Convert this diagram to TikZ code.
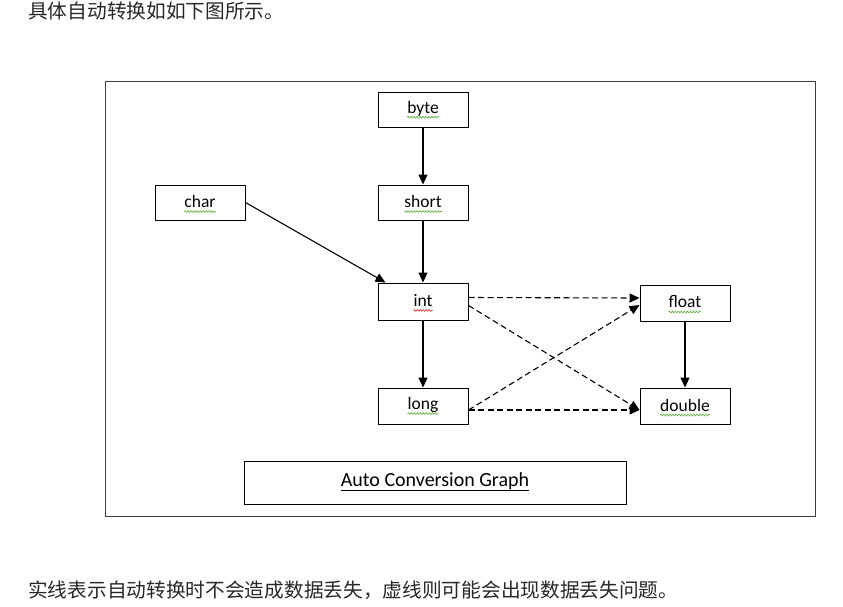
\documentclass[tikz,border=0pt]{standalone}
\usepackage{fontspec}
\setmainfont{Carlito}
\newfontfamily\cjk{Noto Sans CJK SC}
\usetikzlibrary{arrows.meta,decorations.pathmorphing}
\definecolor{squiggreen}{RGB}{90,170,60}
\definecolor{squigred}{RGB}{220,40,40}
\definecolor{txtgray}{RGB}{40,40,40}
\tikzset{
  x=1pt,y=-1pt,
  typebox/.style={draw=black,line width=1pt,minimum width=90pt,minimum height=35pt,inner sep=0pt},
  lbl/.style={inner sep=0pt,font=\fontsize{17.5}{19}\selectfont},
  squig/.style={line width=0.6pt,decorate,decoration={snake,amplitude=0.9pt,segment length=3pt}},
  conv/.style={line width=1.1pt,-{Triangle[length=10pt,width=9pt]}},
  lossy/.style={conv,dash pattern=on 6pt off 3.5pt},
  cjktext/.style={anchor=west,inner sep=0pt,text=txtgray,font=\cjk\fontsize{19.7}{21}\selectfont}
}
\begin{document}
\begin{tikzpicture}
\useasboundingbox[fill=white] (0,0) rectangle (843,606);
% captions
\node[cjktext] (top) at (28,11) {具体自动转换如如下图所示。};
\node[cjktext] (bottom) at (28,590) {实线表示自动转换时不会造成数据丢失，虚线则可能会出现数据丢失问题。};
% frame
\node[draw=black!75,line width=1pt,minimum width=710pt,minimum height=435pt,inner sep=0pt] (frame) at (460,298.5) {};
% boxes
\node[typebox] (byte) at (423,109.5) {};
\node[typebox] (short) at (423,202.5) {};
\node[typebox] (char) at (200,202.5) {};
\node[typebox,minimum height=37pt] (int) at (423,301.5) {};
\node[typebox,minimum height=36pt] (long) at (423,406) {};
\node[typebox,minimum height=36pt] (float) at (685,303) {};
\node[typebox,minimum height=36pt] (double) at (685,406) {};
\node[draw=black,line width=1pt,minimum width=382pt,minimum height=43pt,inner sep=0pt] (title) at (435,482.5) {};
% labels
\foreach \n/\c in {byte/squiggreen,short/squiggreen,char/squiggreen,int/squigred,long/squiggreen,float/squiggreen,double/squiggreen}{
  \node[lbl] (\n t) at ([yshift=1]\n.center) {\n};
  \draw[squig,\c] ([yshift=-4]\n t.base west) -- ([yshift=-4]\n t.base east);
}
\node[lbl,font=\fontsize{20}{22}\selectfont] (titlet) at ([yshift=1]title.center) {Auto Conversion Graph};
\draw[line width=0.8pt] ([yshift=-3.5]titlet.base west) -- ([yshift=-3.5]titlet.base east);
% solid conversions
\draw[conv] (byte) -- (short);
\draw[conv] (short) -- (int);
\draw[conv] (char.east) -- ([xshift=8]int.north west);
\draw[conv] (int) -- (long);
\draw[conv] (float) -- (double);
% lossy conversions
\draw[lossy] ([yshift=4]int.east) -- ([yshift=5]float.west);
\draw[lossy] ([yshift=-4]int.east) -- ([yshift=-4]double.west);
\draw[lossy] ([yshift=-4]long.east) -- ([yshift=-2]float.west);
\draw[lossy] ([yshift=-4]long.east) -- ([yshift=-4]double.west);
\end{tikzpicture}
\end{document}
